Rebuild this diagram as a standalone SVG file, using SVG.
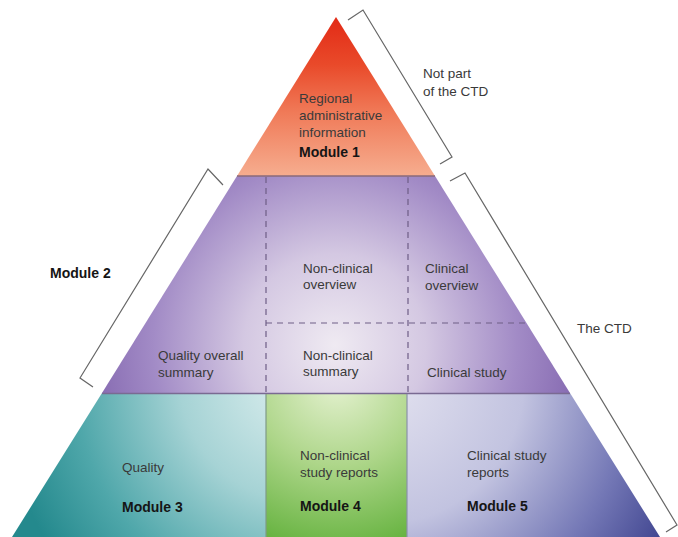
<svg xmlns="http://www.w3.org/2000/svg" width="678" height="537" viewBox="0 0 678 537">
<defs>
<linearGradient id="gRed" x1="0" y1="17" x2="0" y2="176" gradientUnits="userSpaceOnUse">
<stop offset="0" stop-color="#e22a16"/>
<stop offset="0.3" stop-color="#e94a2a"/>
<stop offset="0.6" stop-color="#f07a58"/>
<stop offset="1" stop-color="#f6ad8f"/>
</linearGradient>
<radialGradient id="gPurple" cx="335" cy="345" r="260" gradientUnits="userSpaceOnUse">
<stop offset="0" stop-color="#efeaf2"/>
<stop offset="0.35" stop-color="#d4c8e2"/>
<stop offset="0.7" stop-color="#a28bc6"/>
<stop offset="1" stop-color="#7f62ac"/>
</radialGradient>
<radialGradient id="gTeal" cx="300" cy="380" r="300" gradientUnits="userSpaceOnUse">
<stop offset="0" stop-color="#dff0f0"/>
<stop offset="0.4" stop-color="#a6d3d5"/>
<stop offset="0.75" stop-color="#4fa7aa"/>
<stop offset="1" stop-color="#24898d"/>
</radialGradient>
<radialGradient id="gGreen" cx="337" cy="380" r="170" gradientUnits="userSpaceOnUse">
<stop offset="0" stop-color="#e6f2d2"/>
<stop offset="0.5" stop-color="#aed68a"/>
<stop offset="1" stop-color="#68b442"/>
</radialGradient>
<radialGradient id="gBlue" cx="380" cy="380" r="320" gradientUnits="userSpaceOnUse">
<stop offset="0" stop-color="#e4e3f0"/>
<stop offset="0.45" stop-color="#c2c3e0"/>
<stop offset="0.78" stop-color="#7478b6"/>
<stop offset="1" stop-color="#434892"/>
</radialGradient>
<style>
.t{font-family:"Liberation Sans",Arial,sans-serif;font-size:13.5px;fill:#3a3a3a}
.b{font-family:"Liberation Sans",Arial,sans-serif;font-size:14px;font-weight:bold;fill:#151515}
.br{fill:none;stroke:#666;stroke-width:1.2}
.dash{fill:none;stroke:#6e5e86;stroke-width:1.2;stroke-dasharray:6,5}
</style>
</defs>

<g id="module1">
<polygon points="336,17 237,176 435,176" fill="url(#gRed)"/>
<text class="t" x="299" y="103">Regional</text>
<text class="t" x="299" y="120">administrative</text>
<text class="t" x="299" y="137">information</text>
<text class="b" x="299" y="157">Module 1</text>
</g>

<g id="module2">
<polygon points="237,176 435,176 570,393 102,393" fill="url(#gPurple)"/>
<line x1="237" y1="176" x2="435" y2="176" stroke="#8a6a7a" stroke-width="1.5"/>
<text class="t" x="158" y="360">Quality overall</text>
<text class="t" x="158" y="377">summary</text>
<text class="t" x="303" y="273">Non-clinical</text>
<text class="t" x="303" y="289">overview</text>
<text class="t" x="303" y="360">Non-clinical</text>
<text class="t" x="303" y="376">summary</text>
<text class="t" x="425" y="273">Clinical</text>
<text class="t" x="425" y="290">overview</text>
<text class="t" x="427" y="377">Clinical study</text>
<text class="b" x="50" y="278">Module 2</text>
</g>

<g id="module3">
<polygon points="102,393 266,393 266,537 12,537" fill="url(#gTeal)"/>
<text class="t" x="122" y="472">Quality</text>
<text class="b" x="122" y="512">Module 3</text>
</g>

<g id="module4">
<rect x="266" y="393" width="141" height="144" fill="url(#gGreen)"/>
<text class="t" x="300" y="460">Non-clinical</text>
<text class="t" x="300" y="477">study reports</text>
<text class="b" x="300" y="511">Module 4</text>
</g>

<g id="module5">
<polygon points="407,393 570,393 660,537 407,537" fill="url(#gBlue)"/>
<text class="t" x="467" y="460">Clinical study</text>
<text class="t" x="467" y="477">reports</text>
<text class="b" x="467" y="511">Module 5</text>
</g>

<g id="dividers">
<line class="dash" x1="266" y1="177" x2="266" y2="392"/>
<line class="dash" x1="408" y1="177" x2="408" y2="392"/>
<line class="dash" x1="266" y1="323" x2="528" y2="323"/>
<line x1="102" y1="393.5" x2="570" y2="393.5" stroke="#7a6a92" stroke-width="1.5"/>
<line x1="266" y1="394" x2="266" y2="537" stroke="#7f9a86" stroke-width="1.2"/>
<line x1="407" y1="394" x2="407" y2="537" stroke="#8a92a8" stroke-width="1.2"/>
</g>

<g id="connectors">
<polyline class="br" points="348,20 363,10 452,157 440,164"/>
<polyline class="br" points="223,185 208,169 80,378 93,387"/>
<polyline class="br" points="450,181 465,173 677,525 666,532"/>
</g>

<g id="labels">
<text class="t" x="423" y="78">Not part</text>
<text class="t" x="423" y="96">of the CTD</text>
<text class="t" x="577" y="333">The CTD</text>
</g>
</svg>
